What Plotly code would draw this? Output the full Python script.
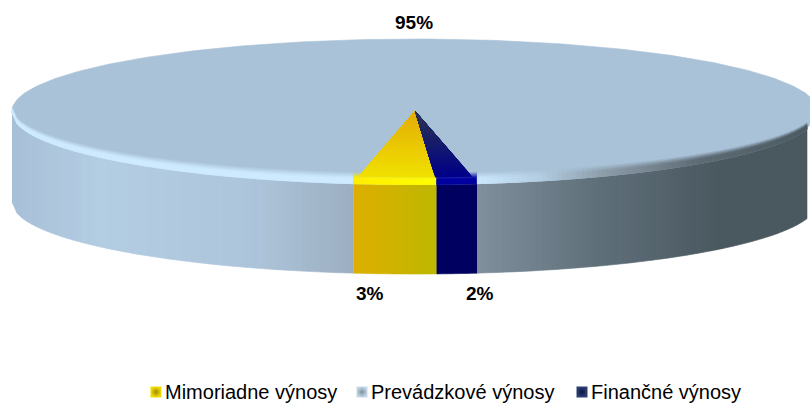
import math
import plotly.graph_objects as go

# ---- data ----
categories = ["Mimoriadne výnosy", "Prevádzkové výnosy", "Finančné výnosy"]
values = [3.3, 95.1, 1.6]
labels = ["3%", "95%", "2%"]

# ---- style / geometry ----
W, H = 810, 403
CX, CY, RX, RY, DEPTH = 415, 111, 403, 72, 91
START_DEG = -3.1
TOP = "#a9c2d8"
SIDE_STOPS = [(12, "#a8c0d7"), (100, "#b3cde3"), (250, "#adc5db"), (340, "#9fb2c5"),
              (480, "#7f8f9c"), (600, "#5f6f79"), (720, "#4a5860"), (818, "#4a5860")]
YELLOW_SIDE = [(353, "#deae00"), (437, "#bdb800")]
NAVY_SIDE = [(437, "#000060"), (477, "#000060")]
RIM_STOPS = [(12, "#cdeaff"), (470, "#cdeaff"), (540, "#b3cde2"), (600, "#8f9fac"),
             (700, "#5d6b74"), (818, "#4a5860")]
YELLOW_RIM = [(353, "#ffee00"), (437, "#ffff00")]
NAVY_RIM = [(437, "#0000a0"), (477, "#0000a0")]
TOP_GRAD = [("#e3ad05", "#f0e000"), None, ("#2b3550", "#000088")]
LEG_X = [156, 362, 582]
LEG_COL = [("#f2e000", "#a58a00"), ("#c6d9ea", "#7f929f"), ("#2c3f74", "#10163a")]
LEG_Y = 392
LABEL_POS = [(370, 293), (414, 22), (480, 293)]
RIM_LAYERS = [(1.0, 0.75), (0.82, 0.45), (0.62, 0.15), (0.42, 0.0)]


def h2r(c):
    return tuple(int(c[i:i + 2], 16) for i in (1, 3, 5))


def mix(a, b, t):
    ra, rb = h2r(a), h2r(b)
    return "#%02x%02x%02x" % tuple(round(ra[i] + (rb[i] - ra[i]) * t) for i in range(3))


def ramp(stops, x):
    if x <= stops[0][0]:
        return stops[0][1]
    for (x0, c0), (x1, c1) in zip(stops, stops[1:]):
        if x <= x1:
            return mix(c0, c1, (x - x0) / (x1 - x0))
    return stops[-1][1]


def poly(xs, ys, color, lw=0.6):
    return go.Scatter(x=xs, y=ys, mode="lines", fill="toself", fillcolor=color,
                      line=dict(color=color, width=lw), hoverinfo="skip", showlegend=False)


def pt(t_deg, scale=1.0):
    t = math.radians(t_deg)
    return CX - RX * scale * math.sin(t), CY + RY * scale * math.cos(t)


def edge_y(x):
    u = max(-1.0, min(1.0, (x - CX) / RX))
    return CY + RY * math.sqrt(1 - u * u)


# slice angles, clockwise from the front of the pie
total = sum(values)
angles = [START_DEG]
for v in values:
    angles.append(angles[-1] + v / total * 360)
y_x0, y_x1 = pt(angles[1])[0], pt(angles[0])[0]
n_x0, n_x1 = pt(angles[0])[0], pt(angles[2])[0]

fig = go.Figure()

# top face
ts = [i for i in range(0, 361, 1)]
fig.add_trace(poly([pt(t)[0] for t in ts], [pt(t)[1] for t in ts], TOP))

# strips of side wall + rim
edges = sorted(set([x for x in range(12, 811, 5)] + [y_x0, y_x1, n_x1]))
for x0, x1 in zip(edges, edges[1:]):
    xm = (x0 + x1) / 2
    if y_x0 <= xm < y_x1:
        side, rim = ramp(YELLOW_SIDE, xm), ramp(YELLOW_RIM, xm)
    elif n_x0 <= xm < n_x1:
        side, rim = ramp(NAVY_SIDE, xm), ramp(NAVY_RIM, xm)
    else:
        side, rim = ramp(SIDE_STOPS, xm), ramp(RIM_STOPS, xm)
    y0, y1 = edge_y(x0), edge_y(x1)
    fig.add_trace(poly([x0, x1, x1, x0], [y0, y1, y1 + DEPTH, y0 + DEPTH], side))
    u = abs(xm - CX) / RX
    th = 3.5 + 6 * math.sqrt(max(0, 1 - u * u))
    for scale, fade in RIM_LAYERS:
        fig.add_trace(poly([x0, x1, x1, x0],
                           [y0 + 1.5, y1 + 1.5, y1 - th * scale, y0 - th * scale],
                           mix(rim, TOP, fade)))

# coloured wedges on the top face: nested triangles shaded from rim to apex
for i, grad in enumerate(TOP_GRAD):
    if grad is None:
        continue
    a0, a1 = angles[i], angles[i + 1]
    if i == 2:
        a0, a1 = a0 - 360, a1 - 360
    bands = 30
    for b in range(bands, 0, -1):
        s = b / bands * 0.925
        p = [(CX, CY), pt(a0, s), pt(a1, s)]
        fig.add_trace(poly([q[0] for q in p], [q[1] for q in p],
                           mix(grad[0], grad[1], (b - 1) / (bands - 1)), lw=0))

# percentage labels
for lab, (lx, ly) in zip(labels, LABEL_POS):
    fig.add_annotation(x=lx, y=ly, text=f"<b>{lab}</b>", showarrow=False,
                       font=dict(family="Liberation Sans", size=19, color="#000000"))

# legend
for name, lx, (c0, c1) in zip(categories, LEG_X, LEG_COL):
    fig.add_trace(go.Scatter(x=[lx], y=[LEG_Y], mode="markers", hoverinfo="skip", showlegend=False,
                             marker=dict(symbol="square", size=11, color=c0, line=dict(width=0),
                                         gradient=dict(type="radial", color=c1))))
    fig.add_annotation(x=lx + 7, y=LEG_Y, text=name, showarrow=False, xanchor="left",
                       font=dict(family="Liberation Sans", size=20, color="#000000"))

fig.update_layout(
    width=W, height=H, margin=dict(l=0, r=0, t=0, b=0), autosize=False,
    paper_bgcolor="#ffffff", plot_bgcolor="#ffffff", showlegend=False,
    xaxis=dict(range=[0, W], visible=False, fixedrange=True),
    yaxis=dict(range=[H, 0], visible=False, fixedrange=True),
)
fig.write_html("out.html", config={"displayModeBar": False},
               post_script="document.body.style.margin='0';document.body.style.overflow='hidden';")
